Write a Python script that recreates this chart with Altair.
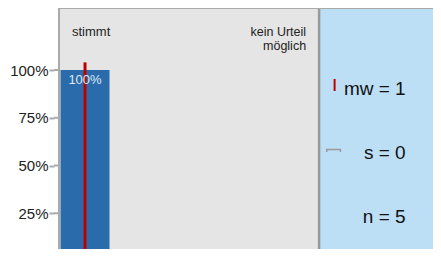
import altair as alt
import pandas as pd

# ---- data ----
categories = ["stimmt", "", "", "", "kein Urteil möglich"]
positions = [1, 2, 3, 4, 5]
shares = [1.0, 0.0, 0.0, 0.0, 0.0]
share_labels = ["100%", "", "", "", ""]
y_ticks = [0.25, 0.5, 0.75, 1.0]
mean_value = 1
sd_value = 0
n_value = 5
stat_lines = [f"mw = {mean_value}", f"s = {sd_value}", f"n = {n_value}"]

FONT = "Liberation Sans"
PLOT_W, PLOT_H = 387, 253
X_MIN, X_MAX = 0.5, 0.5 + PLOT_W / 53.4
Y_MAX = PLOT_H / 191
GRAY_END = 5.5

bars = pd.DataFrame({"pos": positions, "share": shares, "lab": share_labels})
bars = bars[bars.share > 0]

xs = alt.Scale(domain=[X_MIN, X_MAX], nice=False, zero=False)
ys = alt.Scale(domain=[0, Y_MAX], nice=False, zero=True)
X = lambda f: alt.X(f, type="quantitative", scale=xs, axis=None)

panels = pd.DataFrame({"x": [X_MIN, GRAY_END], "x2": [GRAY_END, X_MAX], "y": [0, 0], "y2": [Y_MAX, Y_MAX],
                       "p": ["gray", "blue"]})
bg_gray = alt.Chart(panels[panels.p == "gray"]).mark_rect(color="#e5e5e5").encode(
    x=X("x"), x2="x2", y=alt.Y("y:Q", scale=ys,
                                axis=alt.Axis(values=y_ticks, format=".0%", title=None, grid=False,
                                              domain=False, tickSize=5, tickWidth=2, tickColor="#aaaaaa",
                                              labelPadding=1, labelFontSize=15, labelFont=FONT,
                                              labelColor="#222222")),
    y2="y2")
bg_blue = alt.Chart(panels[panels.p == "blue"]).mark_rect(color="#bddff6").encode(
    x=X("x"), x2="x2", y=alt.Y("y:Q", scale=ys), y2="y2")

bar = alt.Chart(bars).mark_bar(color="#2a6cab", size=49).encode(
    x=X("pos"), y=alt.Y("share:Q", scale=ys))

tick_df = pd.DataFrame({"t": y_ticks})
inner_ticks = alt.Chart(tick_df).mark_rule(color="#aaaaaa", strokeWidth=2).encode(
    x=alt.value(0), x2=alt.value(5), y=alt.Y("t:Q", scale=ys))

mean_df = pd.DataFrame({"m": [mean_value], "y0": [0], "y1": [1.04]})
mean_line = alt.Chart(mean_df).mark_rule(color="#c00000", strokeWidth=3).encode(
    x=X("m"), y=alt.Y("y0:Q", scale=ys), y2="y1")

share_text = alt.Chart(bars).mark_text(color="#dfe9f5", fontSize=13, font=FONT, baseline="top", dy=4).encode(
    x=X("pos"), y=alt.Y("share:Q", scale=ys), text="lab:N")

cat_first = pd.DataFrame({"pos": [positions[0]], "y": [1.2], "lab": [categories[0]]})
cat_last = pd.DataFrame({"pos": [positions[-1]], "y": [1.2], "lab": [categories[-1].replace(" möglich", "\nmöglich")]})
cat_text1 = alt.Chart(cat_first).mark_text(align="left", dx=-13, fontSize=13, font=FONT, color="#222222").encode(
    x=X("pos"), y=alt.Y("y:Q", scale=ys), text="lab:N")
cat_text2 = alt.Chart(cat_last).mark_text(align="right", dx=13, fontSize=12.5, font=FONT, color="#222222",
                                          lineBreak="\n", lineHeight=14).encode(
    x=X("pos"), y=alt.Y("y:Q", scale=ys), text="lab:N")

stats_df = pd.DataFrame({"x": [7.164] * 3, "y": [0.90, 0.565, 0.23], "lab": stat_lines})
stats = alt.Chart(stats_df).mark_text(align="right", fontSize=19, font=FONT, color="#111111").encode(
    x=X("x"), y=alt.Y("y:Q", scale=ys), text="lab:N")

leg_mean = alt.Chart(pd.DataFrame({"x": [5.798], "y": [0.89], "y2": [0.953]})).mark_rule(
    color="#c00000", strokeWidth=2).encode(x=X("x"), y=alt.Y("y:Q", scale=ys), y2="y2")
leg_sd = alt.Chart(pd.DataFrame({"x": [5.648, 5.648, 5.910, 5.910], "y": [0.571, 0.584, 0.584, 0.571],
                                 "o": [0, 1, 2, 3]})).mark_line(color="#999999", strokeWidth=1.5).encode(
    x=X("x"), y=alt.Y("y:Q", scale=ys), order="o:O")

divider = alt.Chart(pd.DataFrame({"x": [GRAY_END], "y": [0], "y2": [Y_MAX]})).mark_rule(
    color="#999999", strokeWidth=2.5).encode(x=X("x"), y=alt.Y("y:Q", scale=ys), y2="y2")
border = alt.Chart(pd.DataFrame({"x": [X_MIN], "x2": [X_MAX], "y": [0], "y2": [Y_MAX]})).mark_rect(
    fillOpacity=0, stroke="#aaaaaa", strokeWidth=2).encode(
    x=X("x"), x2="x2", y=alt.Y("y:Q", scale=ys), y2="y2")

chart = alt.layer(bg_gray, bg_blue, bar, inner_ticks, mean_line, share_text, cat_text1, cat_text2,
                  stats, leg_mean, leg_sd, divider, border).properties(
    width=PLOT_W, height=PLOT_H,
    autosize=alt.AutoSizeParams(type="none"),
    padding={"left": 46, "top": 0, "right": -8, "bottom": -12},
).configure_view(stroke=None)

chart.save("out.html", embed_options={"renderer": "svg", "actions": False})
